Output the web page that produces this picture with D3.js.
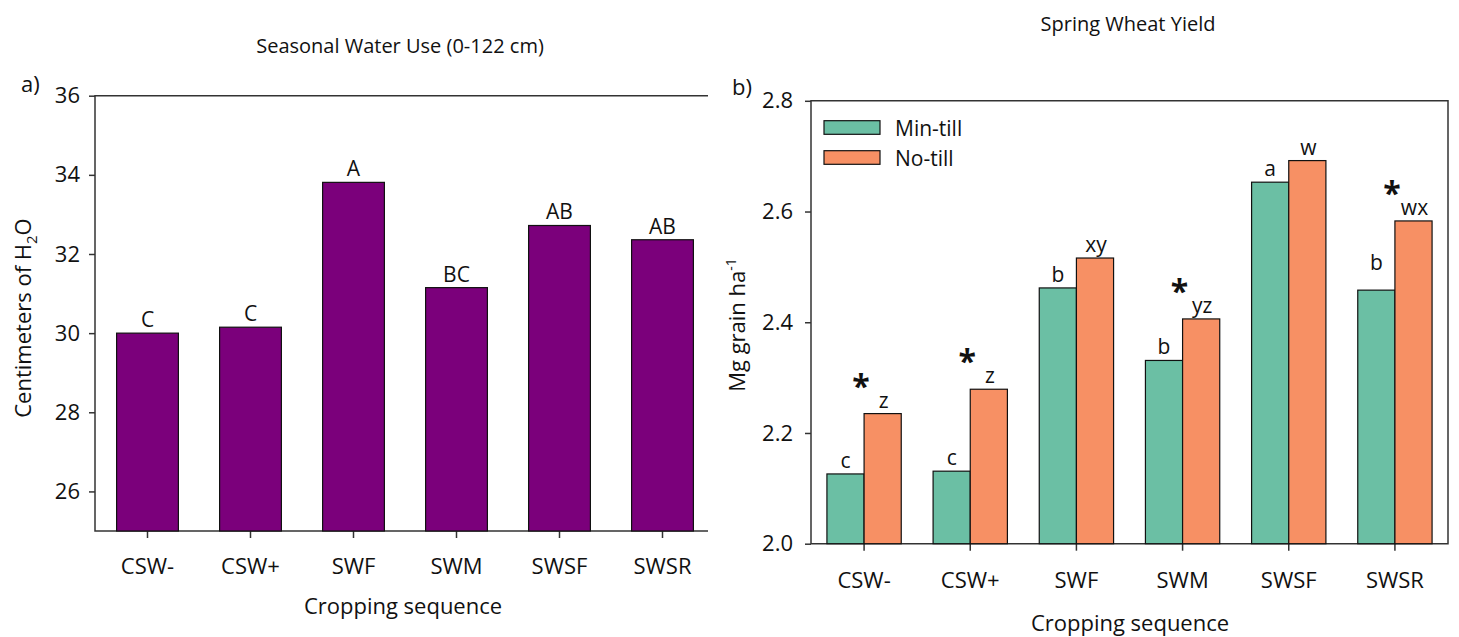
<!DOCTYPE html>
<meta charset="utf-8">
<style>
body { margin: 0; background: #fff; }
text { font-family: "Open Sans", sans-serif; fill: #111; }
.axis text { font-size: 22px; }
.axis line, .axis path, .frame { stroke: #333; stroke-width: 1.5; }
</style>
<svg width="1459" height="637"></svg>
<script src="https://cdn.jsdelivr.net/npm/d3@7/dist/d3.min.js"></script>
<script>

// ---- data ----
var sequences = ["CSW-", "CSW+", "SWF", "SWM", "SWSF", "SWSR"];

// panel a) seasonal water use, cm
var waterUse = [30.0, 30.15, 33.81, 31.15, 32.72, 32.36];
var waterLetters = ["C", "C", "A", "BC", "AB", "AB"];
var waterTicks = [26, 28, 30, 32, 34, 36];

// panel b) spring wheat yield, Mg/ha
var tillage = ["Min-till", "No-till"];
var minTill = [2.126, 2.131, 2.462, 2.331, 2.653, 2.458];
var noTill = [2.235, 2.279, 2.516, 2.406, 2.692, 2.583];
var minLetters = ["c", "c", "b", "b", "a", "b"];
var noLetters = ["z", "z", "xy", "yz", "w", "wx"];
var starred = ["CSW-", "CSW+", "SWM", "SWSR"];
var yieldTicks = [2.0, 2.2, 2.4, 2.6, 2.8];

var svg = d3.select("svg");

// ================= panel a =================
var xa = d3.scaleBand()
    .domain(sequences)
    .range([96, 714])
    .paddingInner(0.4)
    .paddingOuter(0.2);

var ya = d3.scaleLinear()
    .domain([25, 36])
    .range([531, 95.7]);

var ga = svg.append("g");

ga.append("g")
    .attr("class", "axis")
    .attr("transform", "translate(95,0)")
    .call(d3.axisLeft(ya).tickValues(waterTicks).tickSize(6).tickSizeOuter(0).tickPadding(9))
  .select(".domain").remove();

ga.append("g")
    .attr("class", "axis")
    .attr("transform", "translate(0,531)")
    .call(d3.axisBottom(xa).tickSize(7).tickPadding(20))
  .select(".domain").remove();

// frame: left, top, bottom
ga.append("path").attr("class", "frame").attr("fill", "none")
    .attr("d", "M708,95.7H95V531H708");

ga.selectAll(".bar")
  .data(sequences)
  .enter().append("rect")
    .attr("x", function(d) { return xa(d); })
    .attr("width", xa.bandwidth())
    .attr("y", function(d, i) { return ya(waterUse[i]); })
    .attr("height", function(d, i) { return ya(25) - ya(waterUse[i]); })
    .attr("fill", "#7b007b")
    .attr("stroke", "#111")
    .attr("stroke-width", 1.2);

ga.selectAll(".lab")
  .data(sequences)
  .enter().append("text")
    .attr("x", function(d) { return xa(d) + xa.bandwidth() / 2; })
    .attr("y", function(d, i) { return ya(waterUse[i]) - 6; })
    .attr("text-anchor", "middle")
    .style("font-size", "21px")
    .text(function(d, i) { return waterLetters[i]; });

ga.append("text")
    .attr("x", 400).attr("y", 53)
    .attr("text-anchor", "middle")
    .style("font-size", "20px")
    .text("Seasonal Water Use (0-122 cm)");

ga.append("text")
    .attr("x", 21).attr("y", 92)
    .style("font-size", "22px")
    .text("a)");

ga.append("text")
    .attr("x", 403).attr("y", 614)
    .attr("text-anchor", "middle")
    .style("font-size", "22px")
    .text("Cropping sequence");

var yla = ga.append("text")
    .attr("transform", "translate(31,318) rotate(-90)")
    .attr("text-anchor", "middle")
    .style("font-size", "22px");
yla.append("tspan").text("Centimeters of H");
yla.append("tspan").attr("dy", 6).style("font-size", "15px").text("2");
yla.append("tspan").attr("dy", -6).text("O");

// ================= panel b =================
var xb = d3.scaleBand()
    .domain(sequences)
    .range([811, 1448])
    .paddingInner(0.3)
    .paddingOuter(0.15);

var xs = d3.scaleBand()
    .domain(tillage)
    .range([0, xb.bandwidth()]);

var yb = d3.scaleLinear()
    .domain([2.0, 2.8])
    .range([543.7, 100.8]);

var color = d3.scaleOrdinal()
    .domain(tillage)
    .range(["#6bbfa4", "#f79064"]);

var gb = svg.append("g");

gb.append("g")
    .attr("class", "axis")
    .attr("transform", "translate(811,0)")
    .call(d3.axisLeft(yb).tickValues(yieldTicks).tickFormat(d3.format(".1f")).tickSize(6).tickSizeOuter(0).tickPadding(12))
  .select(".domain").remove();

gb.append("g")
    .attr("class", "axis")
    .attr("transform", "translate(0,543.7)")
    .call(d3.axisBottom(xb).tickSize(7).tickPadding(22))
  .select(".domain").remove();

gb.append("path").attr("class", "frame").attr("fill", "none")
    .attr("d", "M811,100.8H1448V543.7H811Z");

var groups = gb.selectAll(".grp")
  .data(sequences)
  .enter().append("g")
    .attr("transform", function(d) { return "translate(" + xb(d) + ",0)"; });

function pairs(d, i) {
  return [
    {key: "Min-till", value: minTill[i], letter: minLetters[i], seq: d},
    {key: "No-till", value: noTill[i], letter: noLetters[i], seq: d}
  ];
}

groups.selectAll("rect")
  .data(pairs)
  .enter().append("rect")
    .attr("x", function(d) { return xs(d.key); })
    .attr("width", xs.bandwidth())
    .attr("y", function(d) { return yb(d.value); })
    .attr("height", function(d) { return yb(2.0) - yb(d.value); })
    .attr("fill", function(d) { return color(d.key); })
    .attr("stroke", "#111")
    .attr("stroke-width", 1.2);

// the SWSR min-till letter sits higher in the original
var lift = {"SWSR": 14};

groups.selectAll(".lab")
  .data(pairs)
  .enter().append("text")
    .attr("x", function(d) { return xs(d.key) + xs.bandwidth() / 2 + (d.key == "No-till" ? 1 : 0); })
    .attr("y", function(d) {
      return yb(d.value) - 6 - (d.key == "Min-till" && lift[d.seq] ? lift[d.seq] : 0);
    })
    .attr("text-anchor", "middle")
    .style("font-size", "21px")
    .text(function(d) { return d.letter; });

groups.filter(function(d) { return starred.indexOf(d) >= 0; })
  .append("text")
    .attr("x", xb.bandwidth() / 2 - 3)
    .attr("y", function(d) { return yb(noTill[sequences.indexOf(d)]) - 16; })
    .attr("text-anchor", "middle")
    .style("font-size", "32px")
    .style("font-weight", "bold")
    .text("*");

// legend
var leg = gb.selectAll(".leg")
  .data(tillage)
  .enter().append("g")
    .attr("transform", function(d, i) { return "translate(824," + (120.7 + i * 30) + ")"; });

leg.append("rect")
    .attr("width", 56).attr("height", 13.6)
    .attr("fill", function(d) { return color(d); })
    .attr("stroke", "#111").attr("stroke-width", 1.2);

leg.append("text")
    .attr("x", 71).attr("y", 15)
    .style("font-size", "21px")
    .text(function(d) { return d; });

gb.append("text")
    .attr("x", 1128).attr("y", 31)
    .attr("text-anchor", "middle")
    .style("font-size", "20px")
    .text("Spring Wheat Yield");

gb.append("text")
    .attr("x", 732).attr("y", 95)
    .style("font-size", "22px")
    .text("b)");

gb.append("text")
    .attr("x", 1130).attr("y", 631)
    .attr("text-anchor", "middle")
    .style("font-size", "22px")
    .text("Cropping sequence");

var ylb = gb.append("text")
    .attr("transform", "translate(745,325) rotate(-90)")
    .attr("text-anchor", "middle")
    .style("font-size", "22px");
ylb.append("tspan").text("Mg grain ha");
ylb.append("tspan").attr("dy", -9).style("font-size", "14px").text("-1");

</script>
